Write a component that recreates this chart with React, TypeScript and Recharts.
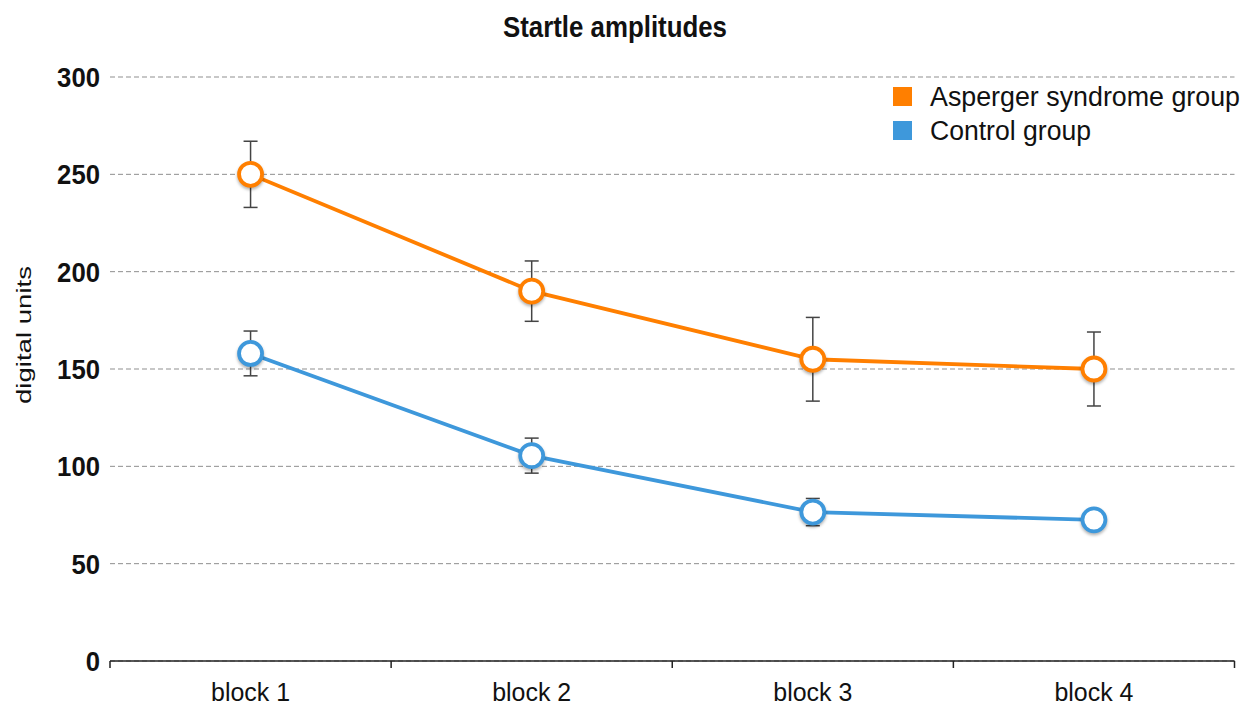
import React from 'react';
import { LineChart, Line, XAxis, YAxis, CartesianGrid, ErrorBar } from 'recharts';

const blocks = ['block 1', 'block 2', 'block 3', 'block 4'];
const aspergerMean = [250, 190, 155, 150];
const aspergerErr = [17, 15.5, 21.5, 19];
const controlMean = [158, 105.5, 76.5, 72.5];
const controlErr = [11.5, 9, 7, 4];
const yTicks = [0, 50, 100, 150, 200, 250, 300];

const ORANGE = '#FF7F00';
const BLUE = '#3E98DB';

const W = 1244;
const H = 707;
const PLOT_LEFT = 110;
const RIGHT_MARGIN = 9.5;
const BAND = (W - PLOT_LEFT - RIGHT_MARGIN) / blocks.length;

const data = blocks.map((b, i) => ({
  block: b,
  asp: aspergerMean[i],
  aspErr: aspergerErr[i],
  ctl: controlMean[i],
  ctlErr: controlErr[i],
}));

const XTick = (props: any) => {
  const { x, y, payload, index } = props;
  const half = BAND / 2;
  return (
    <g>
      <line x1={x - half} y1={y} x2={x - half} y2={y + 7} stroke="#222" strokeWidth={1.5} />
      {index === blocks.length - 1 && (
        <line x1={x + half} y1={y} x2={x + half} y2={y + 7} stroke="#222" strokeWidth={1.5} />
      )}
      <text
        x={x}
        y={y + 40}
        textAnchor="middle"
        fontSize={26}
        fill="#111"
        textLength={79}
        lengthAdjust="spacingAndGlyphs"
        fontFamily="'Liberation Sans', Arial, sans-serif"
      >
        {payload.value}
      </text>
    </g>
  );
};

const YTick = (props: any) => {
  const { x, y, payload } = props;
  const s = String(payload.value);
  return (
    <text
      x={x}
      y={y}
      dy={10}
      textAnchor="end"
      fontSize={28}
      fontWeight="bold"
      fill="#111"
      textLength={s.length * 14.3}
      lengthAdjust="spacingAndGlyphs"
      fontFamily="'Liberation Sans', Arial, sans-serif"
    >
      {s}
    </text>
  );
};

const makeDot = (color: string) => (p: any) => (
  <circle
    key={`dot-${color}-${p.index}`}
    cx={p.cx}
    cy={p.cy}
    r={11.5}
    fill="#fff"
    stroke={color}
    strokeWidth={3.8}
    style={{ filter: 'drop-shadow(0px 2px 1.5px rgba(0,0,0,0.3))' }}
  />
);

export default function App() {
  return (
    <div
      style={{
        position: 'absolute',
        left: 0,
        top: 0,
        width: W,
        height: H,
        background: '#fff',
        fontFamily: "'Liberation Sans', Arial, sans-serif",
      }}
    >
      <LineChart
        width={W}
        height={H}
        data={data}
        margin={{ top: 77, right: RIGHT_MARGIN, bottom: 0, left: 0 }}
      >
        <CartesianGrid vertical={false} stroke="#8f8f8f" strokeDasharray="5 3" />
        <XAxis
          dataKey="block"
          height={46}
          padding={{ left: BAND / 2, right: BAND / 2 }}
          tickSize={0}
          tickMargin={0}
          tickLine={false}
          axisLine={{ stroke: '#222', strokeWidth: 1.5 }}
          tick={<XTick />}
          interval={0}
        />
        <YAxis
          width={PLOT_LEFT}
          domain={[0, 300]}
          ticks={yTicks}
          tickSize={0}
          tickMargin={10}
          tickLine={false}
          axisLine={false}
          tick={<YTick />}
          interval={0}
        />
        <Line
          dataKey="asp"
          type="linear"
          stroke={ORANGE}
          strokeWidth={3.8}
          dot={makeDot(ORANGE)}
          activeDot={false}
          isAnimationActive={false}
        >
          <ErrorBar dataKey="aspErr" direction="y" width={7} stroke="#444" strokeWidth={1.5} />
        </Line>
        <Line
          dataKey="ctl"
          type="linear"
          stroke={BLUE}
          strokeWidth={3.8}
          dot={makeDot(BLUE)}
          activeDot={false}
          isAnimationActive={false}
        >
          <ErrorBar dataKey="ctlErr" direction="y" width={7} stroke="#444" strokeWidth={1.5} />
        </Line>
      </LineChart>
      <svg
        width={W}
        height={H}
        style={{ position: 'absolute', left: 0, top: 0, pointerEvents: 'none' }}
      >
        <text
          x={615}
          y={37}
          textAnchor="middle"
          fontSize={30}
          fontWeight="bold"
          fill="#111"
          textLength={224}
          lengthAdjust="spacingAndGlyphs"
        >
          Startle amplitudes
        </text>
        <text
          x={31}
          y={335}
          transform="rotate(-90 31 335)"
          textAnchor="middle"
          fontSize={21}
          fill="#111"
          textLength={138}
          lengthAdjust="spacingAndGlyphs"
        >
          digital units
        </text>
        <rect x={893} y={87} width={19} height={19} fill={ORANGE} />
        <text x={930} y={106} fontSize={27} fill="#111" textLength={310} lengthAdjust="spacingAndGlyphs">
          Asperger syndrome group
        </text>
        <rect x={893} y={121} width={19} height={19} fill={BLUE} />
        <text x={930} y={140} fontSize={27} fill="#111" textLength={161} lengthAdjust="spacingAndGlyphs">
          Control group
        </text>
      </svg>
    </div>
  );
}
